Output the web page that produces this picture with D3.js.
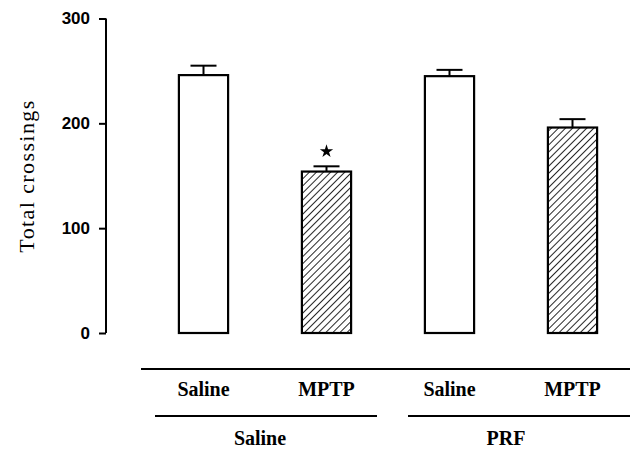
<!DOCTYPE html>
<html>
<head>
<meta charset="utf-8">
<script src="https://cdn.jsdelivr.net/npm/d3@7/dist/d3.min.js"></script>
<style>
  body { margin: 0; background: #fff; }
</style>
</head>
<body>
<script>
// chart data
var treatments = ["Saline", "MPTP", "Saline", "MPTP"];
var groups = ["Saline", "PRF"];
var groupOf = [0, 0, 1, 1];
var means = [246, 154, 245, 196];
var sems = [9, 5, 6, 8];
var hatched = [false, true, false, true];
var stars = [false, true, false, false];
var yTicks = [0, 100, 200, 300];

var w = 630, h = 450;

var svg = d3.select("body").append("svg")
    .attr("width", w)
    .attr("height", h);

// hatch pattern for the MPTP bars
var defs = svg.append("defs");
defs.append("pattern")
    .attr("id", "hatch")
    .attr("patternUnits", "userSpaceOnUse")
    .attr("width", 5)
    .attr("height", 5)
    .attr("patternTransform", "rotate(45)")
    .append("line")
    .attr("x1", 0).attr("y1", 0)
    .attr("x2", 0).attr("y2", 5)
    .attr("stroke", "#000")
    .attr("stroke-width", 1.7);

var y = d3.scaleLinear().domain([0, 300]).range([333, 18.5]);
var x = d3.scaleBand().domain(d3.range(treatments.length)).range([142, 634]).paddingInner(0.6).paddingOuter(0.3);

// y axis
var yAxis = svg.append("g")
    .attr("transform", "translate(106,0)")
    .call(d3.axisLeft(y).tickValues(yTicks).tickSize(7).tickPadding(9));
yAxis.select(".domain").attr("stroke-width", 2).attr("d", "M0," + y(0) + "V" + y(300));
yAxis.selectAll(".tick line").attr("stroke-width", 2);
yAxis.selectAll(".tick text")
    .style("font-family", "Arial, 'Liberation Sans', sans-serif")
    .style("font-weight", "bold")
    .style("font-size", "17px")
    .attr("fill", "#000");

svg.append("text")
    .attr("transform", "translate(34,176) rotate(-90)")
    .attr("text-anchor", "middle")
    .attr("fill", "#000")
    .style("font-family", "'Liberation Serif', 'Times New Roman', serif")
    .style("font-size", "22px")
    .style("letter-spacing", "1.4px")
    .text("Total crossings");

// bars
var bars = svg.append("g");
bars.selectAll("rect")
    .data(means)
    .enter().append("rect")
    .attr("x", function(d, i){ return x(i); })
    .attr("width", x.bandwidth())
    .attr("y", function(d){ return y(d); })
    .attr("height", function(d){ return y(0) - y(d); })
    .attr("fill", function(d, i){ return hatched[i] ? "url(#hatch)" : "#fff"; })
    .attr("stroke", "#000")
    .attr("stroke-width", 2.2);

// error bars (upper only) and significance star
var err = svg.append("g").attr("stroke", "#000").attr("stroke-width", 2);
var star = d3.symbol().type(d3.symbolStar).size(55);
means.forEach(function(d, i){
    var cx = x(i) + x.bandwidth() / 2;
    err.append("line")
        .attr("x1", cx).attr("x2", cx)
        .attr("y1", y(d)).attr("y2", y(d + sems[i]));
    err.append("line")
        .attr("x1", cx - 13).attr("x2", cx + 13)
        .attr("y1", y(d + sems[i])).attr("y2", y(d + sems[i]));
    if (stars[i]) {
        svg.append("path")
            .attr("d", star)
            .attr("transform", "translate(" + cx + "," + (y(d + sems[i]) - 15) + ")")
            .attr("fill", "#000");
    }
});

// category annotation below
var serif = "'Liberation Serif', 'Times New Roman', serif";
svg.append("line")
    .attr("x1", 141).attr("x2", w)
    .attr("y1", 369).attr("y2", 369)
    .attr("stroke", "#000").attr("stroke-width", 2);

svg.append("g").selectAll("text")
    .data(treatments)
    .enter().append("text")
    .attr("x", function(d, i){ return x(i) + x.bandwidth() / 2; })
    .attr("y", 396)
    .attr("text-anchor", "middle")
    .style("font-family", serif)
    .style("font-weight", "bold")
    .style("font-size", "20px")
    .text(function(d){ return d; });

var groupExtents = [[155, 377], [408, w]];
groups.forEach(function(g, gi){
    var idx = groupOf.map(function(v, i){ return v === gi ? i : -1; }).filter(function(i){ return i >= 0; });
    var cx = (x(idx[0]) + x(idx[idx.length - 1]) + x.bandwidth()) / 2 - 5;
    svg.append("line")
        .attr("x1", groupExtents[gi][0]).attr("x2", groupExtents[gi][1])
        .attr("y1", 416).attr("y2", 416)
        .attr("stroke", "#000").attr("stroke-width", 2);
    svg.append("text")
        .attr("x", cx)
        .attr("y", 445)
        .attr("text-anchor", "middle")
        .style("font-family", serif)
        .style("font-weight", "bold")
        .style("font-size", "20px")
        .text(g);
});
</script>
</body>
</html>
